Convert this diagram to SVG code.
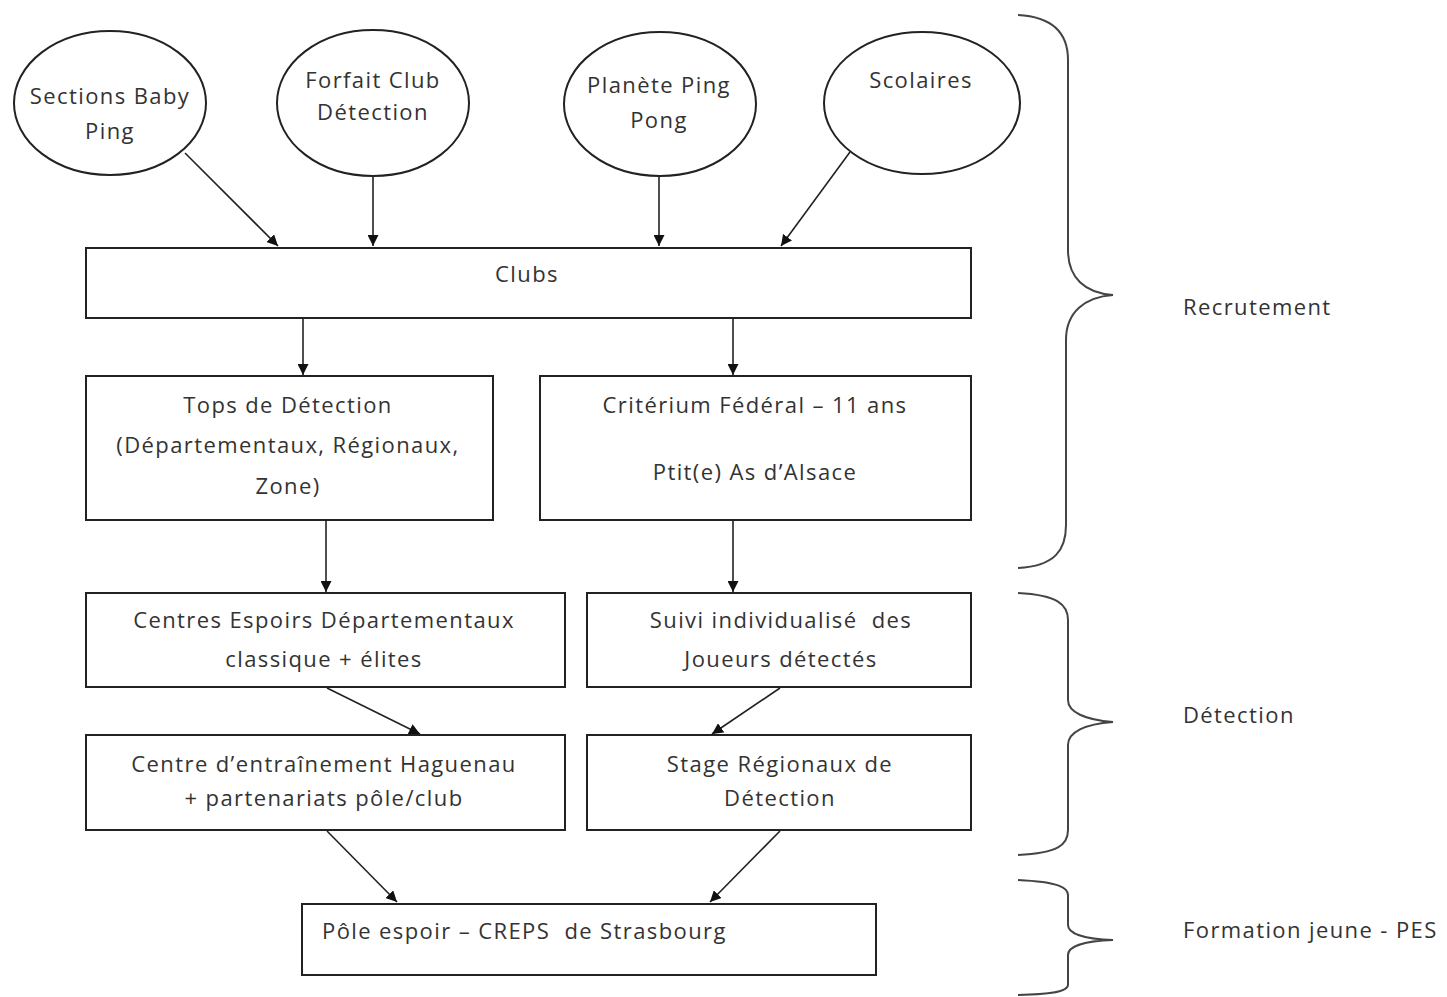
<svg xmlns="http://www.w3.org/2000/svg" width="1447" height="997" viewBox="0 0 1447 997">
<defs>
<marker id="ah" viewBox="0 0 10 10" refX="10" refY="5" markerWidth="11" markerHeight="11" markerUnits="userSpaceOnUse" orient="auto">
<path d="M0,0 L10,5 L0,10 z" fill="#111"/>
</marker>
<style>
.n{fill:#fff;stroke:#222;stroke-width:2}
.t{font-family:"Open Sans","Liberation Sans",sans-serif;font-size:22px;letter-spacing:1.4px;fill:#333;text-anchor:middle;white-space:pre}
.l{font-family:"Open Sans","Liberation Sans",sans-serif;font-size:22px;letter-spacing:1.4px;fill:#333;white-space:pre}
.c{stroke:#222;stroke-width:1.6;fill:none;marker-end:url(#ah)}
.b{stroke:#444;stroke-width:2;fill:none}
</style>
</defs>
<rect width="1447" height="997" fill="#fff"/>
<g id="connectors">
<line class="c" x1="185" y1="153" x2="278" y2="246"/>
<line class="c" x1="373" y1="176" x2="373" y2="246"/>
<line class="c" x1="659" y1="176" x2="659" y2="246"/>
<line class="c" x1="850" y1="152" x2="781" y2="246"/>
<line class="c" x1="303" y1="318" x2="303" y2="375"/>
<line class="c" x1="733" y1="318" x2="733" y2="375"/>
<line class="c" x1="326" y1="520" x2="326" y2="592"/>
<line class="c" x1="733" y1="520" x2="733" y2="592"/>
<line class="c" x1="327" y1="688" x2="420" y2="734"/>
<line class="c" x1="780" y1="688" x2="712" y2="734"/>
<line class="c" x1="327" y1="831" x2="397" y2="902"/>
<line class="c" x1="780" y1="831" x2="710" y2="902"/>
</g>
<g id="n-baby"><ellipse class="n" cx="110" cy="103" rx="96" ry="72"/><text class="t" x="110" y="104">Sections Baby</text><text class="t" x="110" y="139">Ping</text></g>
<g id="n-forfait"><ellipse class="n" cx="373" cy="103" rx="96" ry="73"/><text class="t" x="373" y="88">Forfait Club</text><text class="t" x="373" y="120">Détection</text></g>
<g id="n-planete"><ellipse class="n" cx="660" cy="104" rx="96" ry="72"/><text class="t" x="659" y="93">Planète Ping</text><text class="t" x="659" y="128">Pong</text></g>
<g id="n-scolaires"><ellipse class="n" cx="922" cy="103" rx="98" ry="71"/><text class="t" x="921" y="88">Scolaires</text></g>
<g id="n-clubs"><rect class="n" x="86" y="248" width="885" height="70"/><text class="t" x="527" y="282">Clubs</text></g>
<g id="n-tops"><rect class="n" x="86" y="376" width="407" height="144"/><text class="t" x="288" y="413">Tops de Détection</text><text class="t" x="288" y="453">(Départementaux, Régionaux,</text><text class="t" x="288" y="494">Zone)</text></g>
<g id="n-criterium"><rect class="n" x="540" y="376" width="431" height="144"/><text class="t" x="755" y="413">Critérium Fédéral – 11 ans</text><text class="t" x="755" y="480">Ptit(e) As d’Alsace</text></g>
<g id="n-centres"><rect class="n" x="86" y="593" width="479" height="94"/><text class="t" x="324" y="628">Centres Espoirs Départementaux</text><text class="t" x="324" y="667">classique + élites</text></g>
<g id="n-suivi"><rect class="n" x="587" y="593" width="384" height="94"/><text class="t" x="781" y="628">Suivi individualisé  des</text><text class="t" x="781" y="667">Joueurs détectés</text></g>
<g id="n-centre-entr"><rect class="n" x="86" y="735" width="479" height="95"/><text class="t" x="324" y="772">Centre d’entraînement Haguenau</text><text class="t" x="324" y="806">+ partenariats pôle/club</text></g>
<g id="n-stage"><rect class="n" x="587" y="735" width="384" height="95"/><text class="t" x="780" y="772">Stage Régionaux de</text><text class="t" x="780" y="806">Détection</text></g>
<g id="n-pole"><rect class="n" x="302" y="904" width="574" height="71"/><text class="l" x="322" y="939">Pôle espoir – CREPS  de Strasbourg</text></g>
<g id="braces">
<path class="b" d="M1018,15 C1055,17 1068,35 1068,60 L1068,250 C1068,278 1085,293 1113,295 C1085,297 1066,312 1066,340 L1066,525 C1066,550 1055,566 1018,568"/>
<path class="b" d="M1018,593 C1058,595 1068,605 1068,620 L1068,700 C1068,712 1085,720 1113,722 C1085,724 1068,732 1068,745 L1068,830 C1068,845 1058,853 1018,855"/>
<path class="b" d="M1018,880 C1060,882 1068,888 1068,895 L1068,925 C1068,934 1085,939 1113,940 C1085,941 1068,946 1068,955 L1068,985 C1068,990 1060,994 1018,995"/>
</g>
<g id="labels">
<text class="l" x="1183" y="315">Recrutement</text>
<text class="l" x="1183" y="723">Détection</text>
<text class="l" x="1183" y="938">Formation jeune - PES</text>
</g>
</svg>
